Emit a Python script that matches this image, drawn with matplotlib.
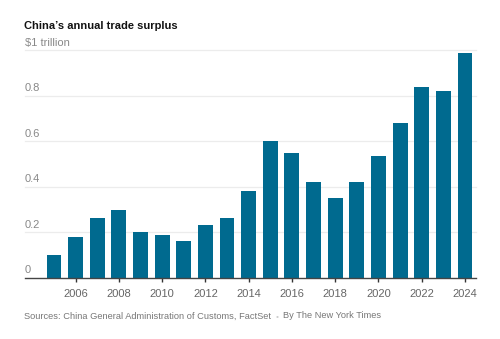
import matplotlib.pyplot as plt

plt.rcParams['font.family'] = ['Liberation Sans', 'DejaVu Sans']

years = list(range(2005, 2025))
surplus = [0.100, 0.177, 0.260, 0.297, 0.199, 0.185, 0.159, 0.232, 0.260, 0.380,
           0.599, 0.546, 0.418, 0.348, 0.420, 0.534, 0.677, 0.838, 0.820, 0.987]
ytick_vals = [0, 0.2, 0.4, 0.6, 0.8, 1.0]
ytick_labels = ['0', '0.2', '0.4', '0.6', '0.8', '$1 trillion']
xtick_vals = list(range(2006, 2025, 2))

fig = plt.figure(figsize=(5, 3.39), dpi=100)
ax = fig.add_axes([0.05, 0.1814, 0.902, 0.6711])

ax.bar(years, surplus, width=0.69, color='#006a8f', zorder=3)

# gridlines with labels sitting above them
for v, lab in zip(ytick_vals, ytick_labels):
    if v > 0:
        ax.axhline(v, color='#ececec', linewidth=0.9, zorder=1, clip_on=False)
    ax.text(2003.66, v + 0.010, lab, ha='left', va='bottom', fontsize=8,
            color='#888888', zorder=4)

ax.set_xlim(2003.66, 2024.51)
ax.set_ylim(0, 1.0)
ax.set_yticks([])
ax.set_xticks(xtick_vals)
ax.set_xticklabels([str(x) for x in xtick_vals], fontsize=8, color='#666666')
ax.tick_params(axis='x', length=3, width=1, color='#333333', pad=5)
for s in ['top', 'right', 'left']:
    ax.spines[s].set_visible(False)
ax.spines['bottom'].set_color('#444444')
ax.spines['bottom'].set_linewidth(1)
ax.spines['bottom'].set_zorder(5)

fig.text(0.048, 0.923, "China\u2019s annual trade surplus", fontsize=8,
         fontweight='bold', color='#121212', va='center')
fig.text(0.048, 0.068, "Sources: China General Administration of Customs, FactSet",
         fontsize=6.7, color='#777777', va='center')
fig.text(0.551, 0.064, "\u2022", fontsize=6, color='#cccccc', va='center')
fig.text(0.566, 0.068, "By The New York Times", fontsize=6.7, color='#777777',
         va='center')

plt.savefig('out.png', dpi=100)
